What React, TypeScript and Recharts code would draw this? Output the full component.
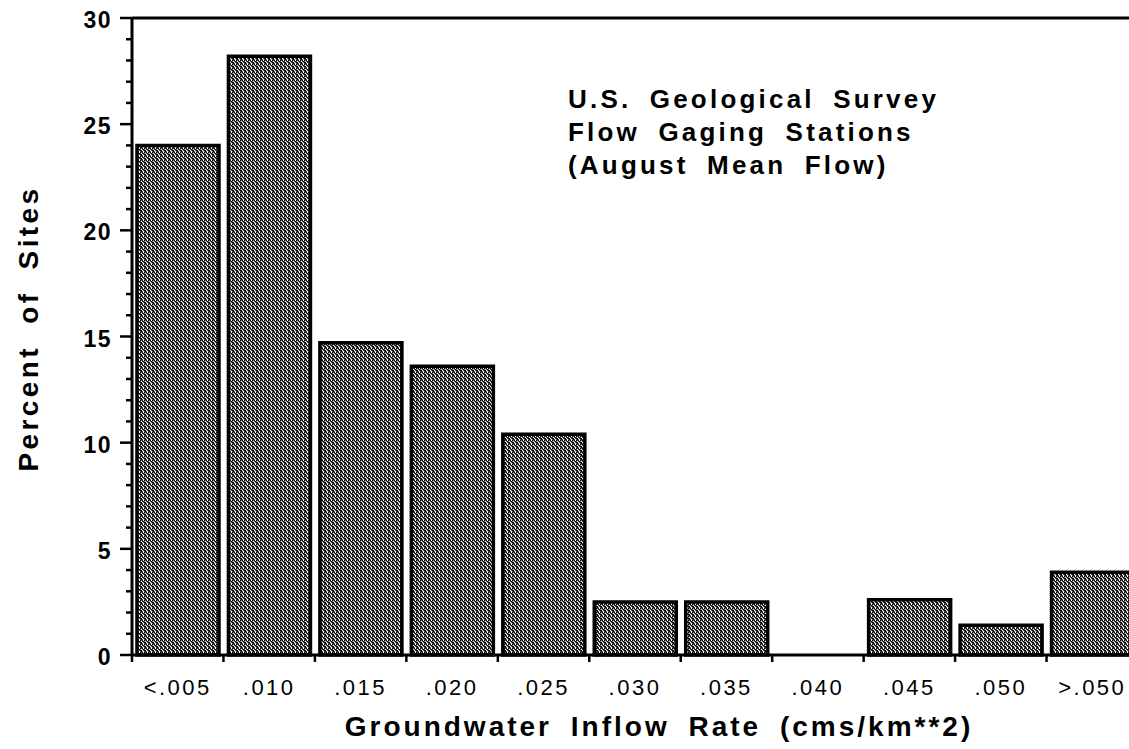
import { BarChart, Bar, XAxis, YAxis, ReferenceLine } from 'recharts';

const bins = ['<.005', '.010', '.015', '.020', '.025', '.030', '.035', '.040', '.045', '.050', '>.050'];
const percentOfSites = [24.0, 28.2, 14.7, 13.6, 10.4, 2.5, 2.5, 0, 2.6, 1.4, 3.9];
const yTicks = Array.from({ length: 31 }, (_, i) => i);
const noteLines = ['U.S. Geological Survey', 'Flow Gaging Stations', '(August Mean Flow)'];

const data = bins.map((bin, i) => ({ bin, pct: percentOfSites[i] }));

const FONT = '"Liberation Sans", Arial, Helvetica, sans-serif';
const INK = '#000';

function PercentTick({ x, y, payload }: any) {
  const major = payload.value % 5 === 0;
  return (
    <g>
      <line x1={x} x2={x - (major ? 12 : 6)} y1={y} y2={y} stroke={INK} strokeWidth={2.5} />
      {major && (
        <text
          x={x - 20}
          y={y + 10}
          textAnchor="end"
          fontFamily={FONT}
          fontWeight="bold"
          fontSize={23}
          letterSpacing={1.5}
          fill={INK}
        >
          {payload.value}
        </text>
      )}
    </g>
  );
}

function BinTick({ x, y, payload, index }: any) {
  const half = payload.offset ?? 45.7;
  const last = index === bins.length - 1;
  return (
    <g>
      <line x1={x - half} x2={x - half} y1={y} y2={y + 7} stroke={INK} strokeWidth={2.5} />
      {last && <line x1={x + half} x2={x + half} y1={y} y2={y + 7} stroke={INK} strokeWidth={2.5} />}
      <text
        x={x}
        y={y + 40}
        textAnchor="middle"
        fontFamily={FONT}
        fontSize={22}
        letterSpacing={2.5}
        fill={INK}
      >
        {payload.value}
      </text>
    </g>
  );
}

function XTitle({ viewBox }: any) {
  return (
    <text
      x={viewBox.x + viewBox.width / 2 + 24}
      y={viewBox.y + 81}
      textAnchor="middle"
      fontFamily={FONT}
      fontWeight="bold"
      fontSize={28}
      letterSpacing={3}
      wordSpacing={8}
      fill={INK}
    >
      Groundwater Inflow Rate (cms/km**2)
    </text>
  );
}

function YTitle({ viewBox }: any) {
  const cx = 28;
  const cy = viewBox.y + viewBox.height / 2 - 8;
  return (
    <text
      x={cx}
      y={cy}
      transform={`rotate(-90, ${cx}, ${cy})`}
      textAnchor="middle"
      dominantBaseline="central"
      fontFamily={FONT}
      fontWeight="bold"
      fontSize={28}
      letterSpacing={3.4}
      wordSpacing={10}
      fill={INK}
    >
      Percent of Sites
    </text>
  );
}

export default function App() {
  return (
    <div
      style={{
        position: 'absolute',
        left: 0,
        top: 0,
        width: 1129,
        height: 749,
        overflow: 'hidden',
        background: '#fff',
      }}
    >
      <BarChart
        width={1141}
        height={749}
        data={data}
        margin={{ top: 18, right: 3, bottom: 0, left: 0 }}
        barSize={82}
      >
        <defs>
          {/* dithered grey, roughly like the scanned stipple */}
          <pattern id="stipple" width="4" height="4" patternUnits="userSpaceOnUse">
            <rect width="4" height="4" fill="#555" />
            <rect x="0" y="0" width="1" height="1" fill="#000" />
            <rect x="2" y="0" width="1" height="1" fill="#000" />
            <rect x="1" y="1" width="1" height="1" fill="#fff" />
            <rect x="3" y="1" width="1" height="1" fill="#000" />
            <rect x="0" y="2" width="1" height="1" fill="#000" />
            <rect x="2" y="2" width="1" height="1" fill="#fff" />
            <rect x="1" y="3" width="1" height="1" fill="#000" />
            <rect x="3" y="3" width="1" height="1" fill="#fff" />
            <rect x="3" y="0" width="1" height="1" fill="#fff" />
            <rect x="1" y="2" width="1" height="1" fill="#000" />
          </pattern>
        </defs>
        <XAxis
          dataKey="bin"
          height={94}
          interval={0}
          tickSize={0}
          tickMargin={0}
          tickLine={false}
          axisLine={{ stroke: INK, strokeWidth: 3 }}
          tick={<BinTick />}
          label={{ content: XTitle }}
        />
        <YAxis
          width={132}
          domain={[0, 30]}
          ticks={yTicks}
          interval={0}
          tickSize={0}
          tickMargin={0}
          tickLine={false}
          axisLine={{ stroke: INK, strokeWidth: 3 }}
          tick={<PercentTick />}
          label={{ content: YTitle }}
        />
        <ReferenceLine y={30} stroke={INK} strokeWidth={3} />
        <Bar
          dataKey="pct"
          fill="url(#stipple)"
          stroke={INK}
          strokeWidth={3.5}
          isAnimationActive={false}
        />
      </BarChart>
      <svg
        width={1129}
        height={749}
        style={{ position: 'absolute', left: 0, top: 0, pointerEvents: 'none' }}
      >
        {noteLines.map((line, i) => (
          <text
            key={line}
            x={568}
            y={108 + i * 33}
            fontFamily={FONT}
            fontWeight="bold"
            fontSize={26}
            letterSpacing={3.2}
            wordSpacing={8}
            fill={INK}
          >
            {line}
          </text>
        ))}
      </svg>
    </div>
  );
}
